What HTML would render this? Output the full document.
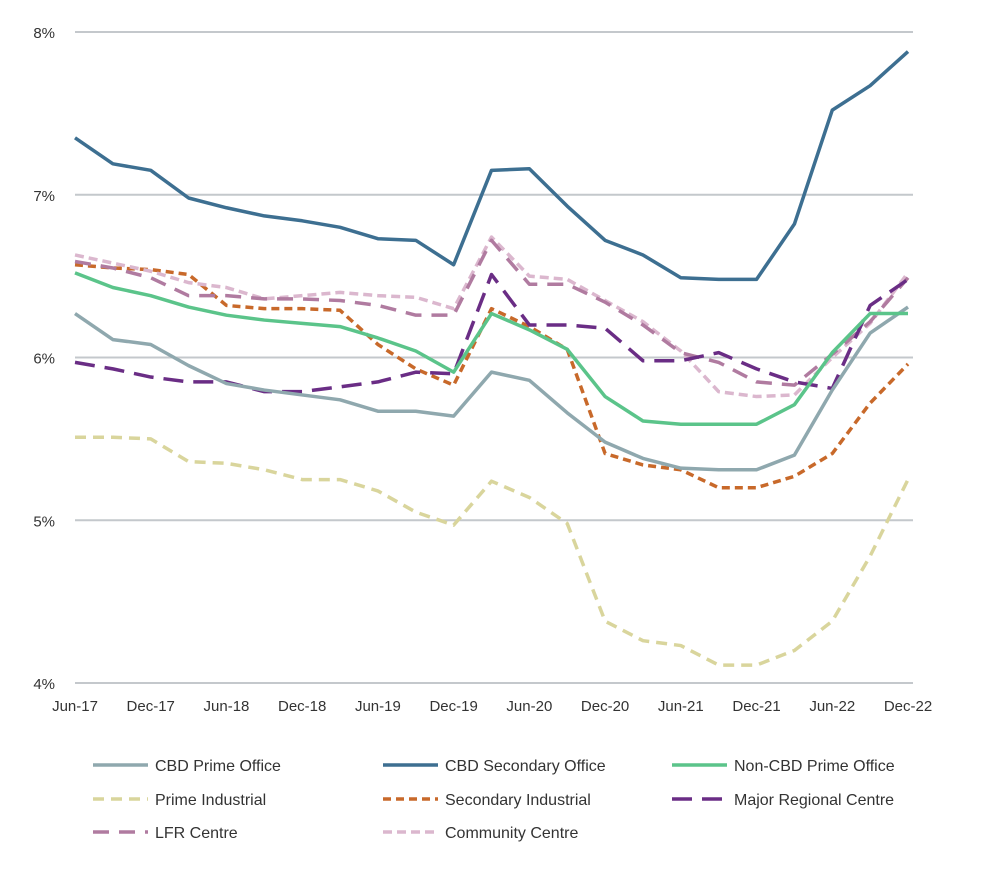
<!DOCTYPE html>
<html><head><meta charset="utf-8"><style>
body{margin:0;background:#fff;font-family:"Liberation Sans",sans-serif;}
svg text{font-family:"Liberation Sans",sans-serif;fill:#333;}
</style></head><body>
<svg id="chart" width="988" height="868"></svg>
<script>
const categories=["Jun-17","Sep-17","Dec-17","Mar-18","Jun-18","Sep-18","Dec-18","Mar-19","Jun-19","Sep-19","Dec-19","Mar-20","Jun-20","Sep-20","Dec-20","Mar-21","Jun-21","Sep-21","Dec-21","Mar-22","Jun-22","Sep-22","Dec-22"];
const yTicks=[4,5,6,7,8];
const cbdPrime=[6.27,6.11,6.08,5.95,5.84,5.80,5.77,5.74,5.67,5.67,5.64,5.91,5.86,5.66,5.48,5.38,5.32,5.31,5.31,5.40,5.80,6.15,6.31];
const cbdSecondary=[7.35,7.19,7.15,6.98,6.92,6.87,6.84,6.80,6.73,6.72,6.57,7.15,7.16,6.93,6.72,6.63,6.49,6.48,6.48,6.82,7.52,7.67,7.88];
const nonCbdPrime=[6.52,6.43,6.38,6.31,6.26,6.23,6.21,6.19,6.12,6.04,5.91,6.27,6.17,6.05,5.76,5.61,5.59,5.59,5.59,5.71,6.03,6.27,6.27];
const primeIndustrial=[5.51,5.51,5.50,5.36,5.35,5.31,5.25,5.25,5.18,5.05,4.97,5.24,5.14,4.98,4.38,4.26,4.23,4.11,4.11,4.20,4.38,4.78,5.25];
const secondaryIndustrial=[6.57,6.55,6.54,6.51,6.32,6.30,6.30,6.29,6.08,5.93,5.83,6.30,6.19,6.05,5.41,5.34,5.31,5.20,5.20,5.27,5.41,5.72,5.96];
const majorRegional=[5.97,5.93,5.88,5.85,5.85,5.79,5.79,5.82,5.85,5.91,5.90,6.51,6.20,6.20,6.18,5.98,5.98,6.03,5.93,5.85,5.81,6.32,6.48];
const lfrCentre=[6.59,6.55,6.49,6.38,6.38,6.36,6.36,6.35,6.32,6.26,6.26,6.72,6.45,6.45,6.34,6.20,6.03,5.97,5.85,5.83,6.02,6.22,6.49];
const communityCentre=[6.63,6.58,6.53,6.46,6.43,6.36,6.38,6.40,6.38,6.37,6.30,6.74,6.50,6.48,6.35,6.22,6.04,5.79,5.76,5.77,6.00,6.21,6.52];

const NS="http://www.w3.org/2000/svg";
const svg=document.getElementById('chart');
const x0=75,x1=908,yTop=32,yBot=683,vMin=4,vMax=8;
const xs=i=>x0+(x1-x0)*i/(categories.length-1);
const ys=v=>yBot-(v-vMin)/(vMax-vMin)*(yBot-yTop);
function mk(t,a){const e=document.createElementNS(NS,t);for(const k in a)e.setAttribute(k,a[k]);svg.appendChild(e);return e;}
yTicks.forEach(t=>{
  const g=mk('line',{x1:x0,x2:913,y1:ys(t),y2:ys(t),stroke:'#c4c8cc','stroke-width':2});
  
  
  const l=mk('text',{x:55,y:ys(t)+6,'text-anchor':'end','font-size':15});
  l.textContent=t+'%';
  
  
});
categories.forEach((c,i)=>{
  if(i%2)return;
  const l=mk('text',{x:xs(i),y:711,'text-anchor':'middle','font-size':15});
  l.textContent=c;
  
  
});
const series=[
 ["CBD Prime Office",cbdPrime,"#8fa8ae","",93,765],
 ["CBD Secondary Office",cbdSecondary,"#3d6f91","",383,765],
 ["Non-CBD Prime Office",nonCbdPrime,"#5bc48a","",672,765],
 ["Prime Industrial",primeIndustrial,"#d9d59c","11 7",93,799],
 ["Secondary Industrial",secondaryIndustrial,"#c8692a","8 5",383,799],
 ["Major Regional Centre",majorRegional,"#6a2d85","20 10",672,799],
 ["LFR Centre",lfrCentre,"#b07ba0","16 10",93,832],
 ["Community Centre",communityCentre,"#dbb7ce","9 5",383,832]
];
// draw in order so CBD lines on top similar to reference
[3,4,7,6,5,0,2,1].forEach(k=>{
  const [name,data,col,dash]=series[k];
  const p=mk('polyline',{points:data.map((v,i)=>xs(i)+','+ys(v)).join(' '),fill:'none',stroke:col,'stroke-width':3.5,'stroke-dasharray':dash,'stroke-linejoin':'round'});
  
  
});
series.forEach(([name,data,col,dash,lx,ly])=>{
  const l=mk('line',{x1:lx,x2:lx+55,y1:ly,y2:ly,stroke:col,'stroke-width':3.5,'stroke-dasharray':dash});
  
  
  const t=mk('text',{x:lx+62,y:ly+6,'font-size':16});
  t.textContent=name;
  
  
});
</script>
</body></html>
